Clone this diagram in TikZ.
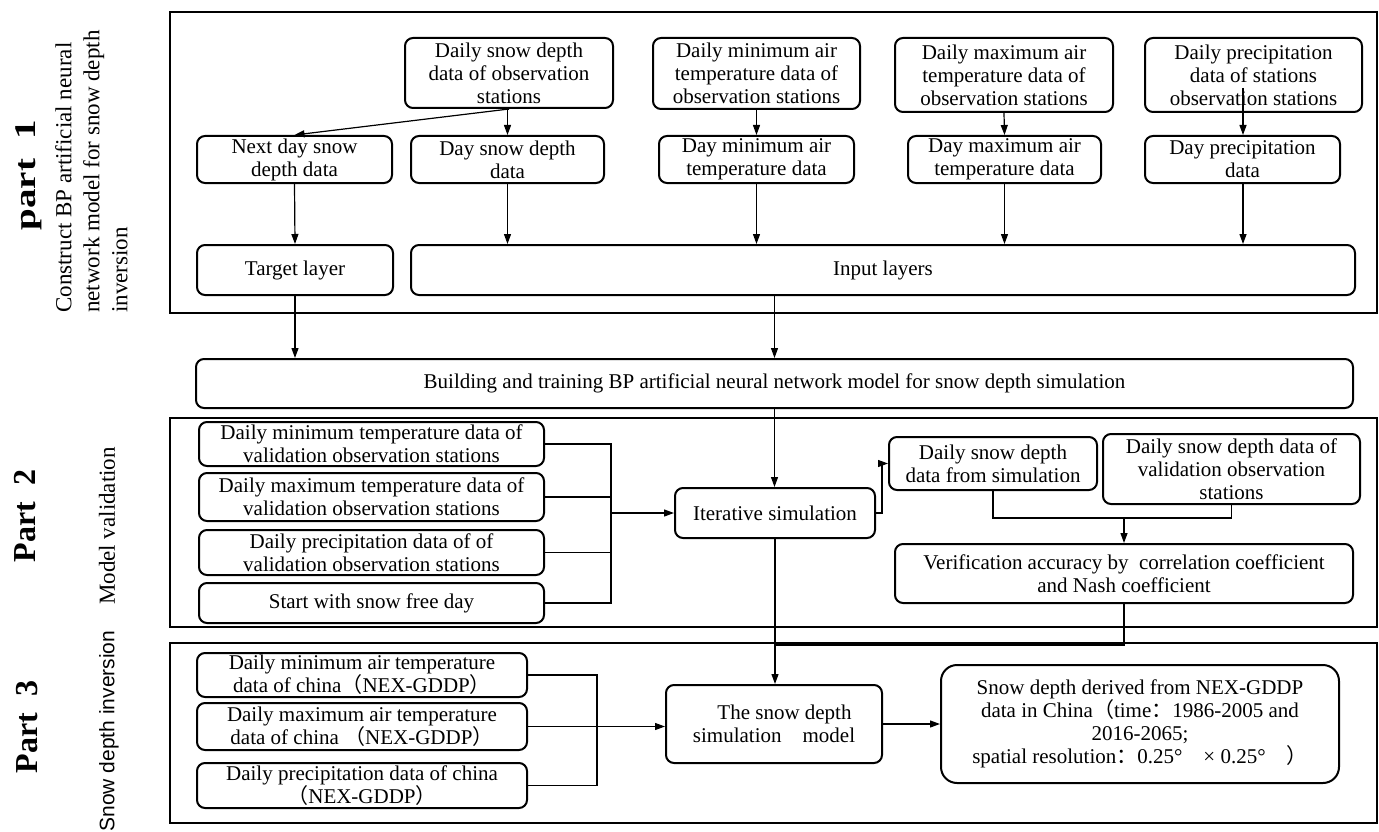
\documentclass[tikz,border=0pt]{standalone}
\usepackage{fontspec}
\setmainfont{Liberation Serif}
\newfontfamily\cjk{Noto Sans CJK SC}
\newfontfamily\labsans{Liberation Sans}
\newfontfamily\widebf[FakeStretch=1.3]{Liberation Serif Bold}
\usetikzlibrary{arrows.meta}
\begin{document}
\begin{tikzpicture}[x=1pt,y=-1pt,
  rbox/.style={draw, line width=2pt, rounded corners=8pt, align=center, inner sep=1pt, font=\fontsize{21}{23}\selectfont},
  pframe/.style={draw, line width=2.4pt},
  conn/.style={line width=1.2pt},
  arr/.style={conn, -{Triangle[length=10pt,width=7pt]}},
  partlab/.style={rotate=90, inner sep=0pt}]
\useasboundingbox (0,0) rectangle (1379,832);
\fill[white] (0,0) rectangle (1379,832);

% frames
\draw[pframe] (170,12) rectangle (1377,313);
\draw[pframe] (170,418) rectangle (1377,627);
\draw[pframe] (170,643) rectangle (1377,823);

% side labels
\node[partlab, font=\widebf\fontsize{30}{34}\selectfont] (lab1) at (29,175) {part\ \ 1};
\node[partlab, anchor=north west, align=left, font=\fontsize{23}{28}\selectfont] (lab1b) at (55,313) {Construct BP artificial neural\\network model for snow depth\\inversion};
\node[partlab, font=\bfseries\fontsize{32}{36}\selectfont] (lab2) at (25,516) {Part\ \ 2};
\node[partlab, font=\fontsize{23}{27}\selectfont] (lab2b) at (107,526) {Model validation};
\node[partlab, font=\bfseries\fontsize{32}{36}\selectfont] (lab3) at (27,727) {Part\ \ 3};
\node[partlab, font=\labsans\fontsize{21}{25}\selectfont] (lab3b) at (109,731) {Snow depth inversion};

% part 1 nodes
\node[rbox, minimum width=208pt, minimum height=70pt] (n1) at (509,73) {Daily snow depth\\data of observation\\stations};
\node[rbox, minimum width=207pt, minimum height=71pt] (n2) at (756.5,73.5) {Daily minimum air\\temperature data of\\observation stations};
\node[rbox, minimum width=218pt, minimum height=74pt] (n3) at (1004,75) {Daily maximum air\\temperature data of\\observation stations};
\node[rbox, minimum width=217pt, minimum height=74pt] (n4) at (1253.5,75) {Daily precipitation\\data of stations\\observation stations};

\node[rbox, minimum width=195pt, minimum height=47pt] (m0) at (294.5,159.5) {Next day snow\\depth data};
\node[rbox, minimum width=193pt, minimum height=47pt] (m1) at (507.5,159.5) {Day snow depth\\data};
\node[rbox, minimum width=195pt, minimum height=47pt] (m2) at (756.5,159.5) {Day minimum air\\temperature data};
\node[rbox, minimum width=193pt, minimum height=47pt] (m3) at (1004.5,159.5) {Day maximum air\\temperature data};
\node[rbox, minimum width=195pt, minimum height=47pt] (m4) at (1242.5,159.5) {Day precipitation\\data};

\node[rbox, minimum width=196pt, minimum height=50pt] (target) at (295,270) {Target layer};
\node[rbox, minimum width=944pt, minimum height=50pt] (input) at (883,270) {Input layers};

\node[rbox, minimum width=1157pt, minimum height=49pt] (build) at (774.5,383.5) {Building and training BP artificial neural network model for snow depth simulation};

% part 2 nodes
\node[rbox, minimum width=345pt, minimum height=44pt] (v1) at (371.5,444) {Daily minimum temperature data of\\validation observation stations};
\node[rbox, minimum width=345pt, minimum height=48pt] (v2) at (371.5,497) {Daily maximum temperature data of\\validation observation stations};
\node[rbox, minimum width=345pt, minimum height=45pt] (v3) at (371.5,552.5) {Daily precipitation data of of\\validation observation stations};
\node[rbox, minimum width=345pt, minimum height=40pt] (v4) at (371.5,603) {Start with snow free day};

\node[rbox, minimum width=200pt, minimum height=50pt] (iter) at (775,513) {Iterative simulation};
\node[rbox, minimum width=208pt, minimum height=53pt] (s1) at (993,463.5) {Daily snow depth\\data from simulation};
\node[rbox, minimum width=257pt, minimum height=70pt] (s2) at (1231.5,469) {Daily snow depth data of\\validation observation\\stations};
\node[rbox, minimum width=458pt, minimum height=59pt] (verify) at (1124,573.5) {Verification accuracy by\ \ correlation coefficient\\and Nash coefficient};

% part 3 nodes
\node[rbox, minimum width=330pt, minimum height=44pt] (p1) at (362,675) {Daily minimum air temperature\\data of china{\cjk （}NEX-GDDP{\cjk ）}};
\node[rbox, minimum width=330pt, minimum height=47pt] (p2) at (362,726.5) {Daily maximum air temperature\\data of china\ {\cjk （}NEX-GDDP{\cjk ）}};
\node[rbox, minimum width=330pt, minimum height=45pt] (p3) at (362,785.5) {Daily precipitation data of china\\{\cjk （}NEX-GDDP{\cjk ）}};
\node[rbox, minimum width=216pt, minimum height=78pt] (model) at (774,724) {\quad The snow depth\\simulation\quad model};
\node[rbox, rounded corners=16pt, minimum width=398pt, minimum height=118pt] (result) at (1140,724) {Snow depth derived from NEX-GDDP\\data in China{\cjk （}time{\cjk ：}1986-2005 and\\2016-2065;\\spatial resolution{\cjk ：}0.25°\quad× 0.25°\quad{\cjk ）}};

% coordinates
\coordinate (n4s) at (1243,88);
\coordinate (bus2) at (611,0);
\coordinate (bus3) at (597,0);
\coordinate (j) at (1124,518);
\coordinate (vj) at (1124,645);

% part 1 connectors
\draw[arr] (n1.south) -- (n1.south -| m1.north) -- (m1.north);
\draw[arr] (n1.south) -- (m0.north);
\draw[arr] (n2.south) -- (m2.north);
\draw[arr] (n3.south) -- (m3.north);
\draw[arr] (n4s) -- (n4s |- m4.north);
\draw[arr] (m0.south) -- (target.north);
\draw[arr] (m1.south) -- (m1.south |- input.north);
\draw[arr] (m2.south) -- (m2.south |- input.north);
\draw[arr] (m3.south) -- (m3.south |- input.north);
\draw[arr] (n4s |- m4.south) -- (n4s |- input.north);
\draw[arr] (target.south) -- (target.south |- build.north);
\draw[arr] (input.south -| build.north) -- (build.north);

% part 2 connectors
\draw[arr] (build.south) -- (build.south |- iter.north);
\draw[conn] (v1.east) -- (v1.east -| bus2) -- (v4.east -| bus2) -- (v4.east);
\draw[conn] (v2.east) -- (v2.east -| bus2);
\draw[conn] (v3.east) -- (v3.east -| bus2);
\draw[arr] (iter.west -| bus2) -- (iter.west);
\draw[arr] (iter.east) -- ++(6,0) |- (s1.west);
\draw[conn] (s1.south) |- (j);
\draw[conn] (s2.south) |- (j);
\draw[arr] (j) -- (verify.north);
\draw[conn] (verify.south) -- (vj) -- (vj -| model.north);

% part 3 connectors
\draw[arr] (iter.south) -- (iter.south |- model.north);
\draw[conn] (p1.east) -- (p1.east -| bus3) -- (p3.east -| bus3) -- (p3.east);
\draw[arr] (p2.east) -- (p2.east -| model.west);
\draw[arr] (model.east) -- (result.west);
\end{tikzpicture}
\end{document}
